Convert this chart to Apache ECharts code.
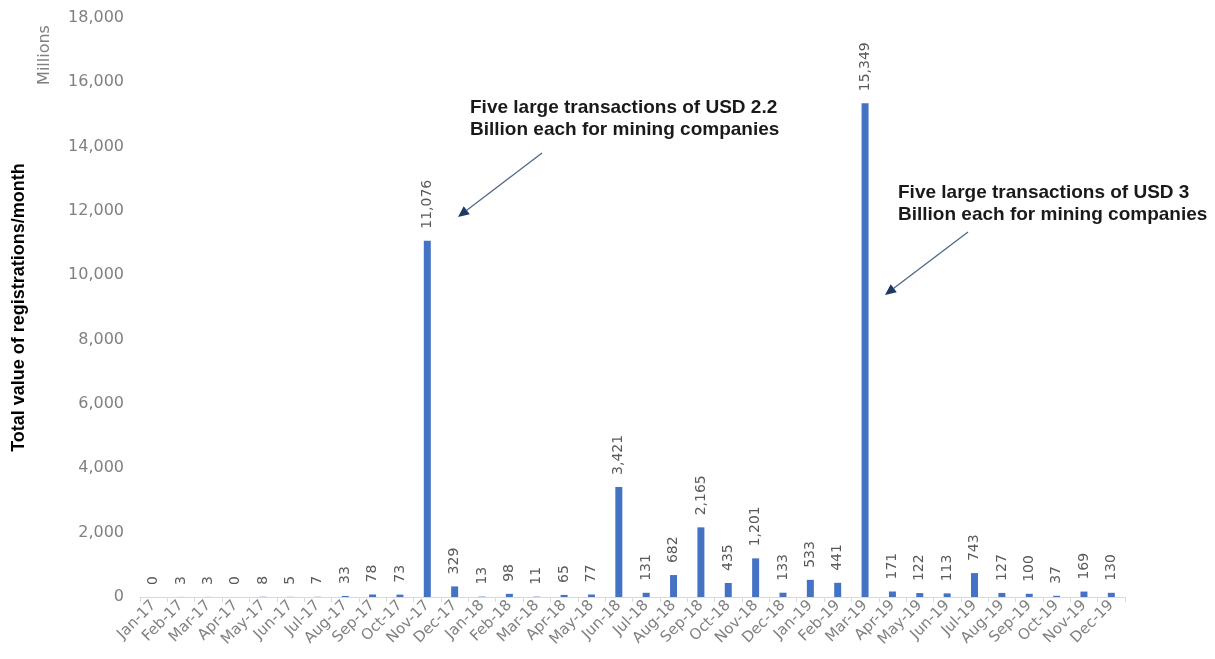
<!DOCTYPE html>
<html>
<head>
<meta charset="utf-8">
<script src="https://cdn.jsdelivr.net/npm/echarts@6/dist/echarts.min.js"></script>
<style>
  html, body { margin: 0; padding: 0; background: #fff; }
  #chart { width: 1215px; height: 659px; }
</style>
</head>
<body>
<div id="chart"></div>
<script>
const categories = [
  'Jan-17','Feb-17','Mar-17','Apr-17','May-17','Jun-17','Jul-17','Aug-17','Sep-17','Oct-17','Nov-17','Dec-17',
  'Jan-18','Feb-18','Mar-18','Apr-18','May-18','Jun-18','Jul-18','Aug-18','Sep-18','Oct-18','Nov-18','Dec-18',
  'Jan-19','Feb-19','Mar-19','Apr-19','May-19','Jun-19','Jul-19','Aug-19','Sep-19','Oct-19','Nov-19','Dec-19'
];
const values = [
  0, 3, 3, 0, 8, 5, 7, 33, 78, 73, 11076, 329,
  13, 98, 11, 65, 77, 3421, 131, 682, 2165, 435, 1201, 133,
  533, 441, 15349, 171, 122, 113, 743, 127, 100, 37, 169, 130
];
const yTicks = { min: 0, max: 18000, interval: 2000 };
const yAxisTitle = 'Total value of registrations/month';
const unitLabel = 'Millions';
const note1 = 'Five large transactions of USD 2.2\nBillion each for mining companies';
const note2 = 'Five large transactions of USD 3\nBillion each for mining companies';

function fmt(v) { return Number(v).toLocaleString('en-US'); }

function arrow(x1, y1, x2, y2) {
  const dx = x2 - x1, dy = y2 - y1;
  const len = Math.sqrt(dx * dx + dy * dy);
  const ux = dx / len, uy = dy / len;
  const hl = 11, hw = 5;
  const bx = x2 - ux * hl, by = y2 - uy * hl;
  return [
    { type: 'line', shape: { x1: x1, y1: y1, x2: bx, y2: by },
      style: { stroke: '#4F6789', lineWidth: 1.3 }, z: 100 },
    { type: 'polygon', shape: { points: [[x2, y2], [bx - uy * hw, by + ux * hw], [bx + uy * hw, by - ux * hw]] },
      style: { fill: '#1F3864' }, z: 100 }
  ];
}

const chart = echarts.init(document.getElementById('chart'), null, { renderer: 'canvas' });
chart.setOption({
  backgroundColor: '#ffffff',
  animation: false,
  grid: { left: 140, right: 90, top: 18, bottom: 62 },
  xAxis: {
    type: 'category',
    data: categories,
    axisLine: { show: true, lineStyle: { color: '#D9D9D9', width: 1 } },
    axisTick: { show: true, length: 5, lineStyle: { color: '#D9D9D9' } },
    axisLabel: {
      interval: 0, rotate: 45, color: '#808080', fontSize: 15,
      fontFamily: 'DejaVu Sans', margin: 6
    },
    splitLine: { show: false }
  },
  yAxis: {
    type: 'value',
    min: yTicks.min, max: yTicks.max, interval: yTicks.interval,
    name: yAxisTitle,
    nameLocation: 'middle',
    nameRotate: 90,
    nameGap: 112,
    nameTextStyle: { fontFamily: 'Liberation Sans', fontWeight: 'bold', fontSize: 18, color: '#000000' },
    axisLine: { show: false },
    axisTick: { show: false },
    splitLine: { show: false },
    axisLabel: {
      color: '#808080', fontSize: 16, fontFamily: 'DejaVu Sans', margin: 16,
      formatter: function (v) { return fmt(v); }
    }
  },
  series: [{
    type: 'bar',
    data: values,
    barWidth: 7,
    itemStyle: { color: '#4472C4' },
    label: {
      show: true,
      position: 'top',
      rotate: 90,
      align: 'left',
      verticalAlign: 'middle',
      distance: 12,
      color: '#595959',
      fontSize: 14,
      fontFamily: 'DejaVu Sans',
      formatter: function (p) { return fmt(p.value); }
    }
  }],
  graphic: [
    { type: 'text', x: 45, y: 55, rotation: Math.PI / 2,
      style: { text: unitLabel, fill: '#808080', font: '16px "DejaVu Sans"', textAlign: 'center', textVerticalAlign: 'middle' } },
    { type: 'text', x: 470, y: 97,
      style: { text: note1, fill: '#1a1a1a', font: 'bold 19px "Liberation Sans"', lineHeight: 22, textAlign: 'left', textVerticalAlign: 'top' } },
    { type: 'text', x: 898, y: 182,
      style: { text: note2, fill: '#1a1a1a', font: 'bold 19px "Liberation Sans"', lineHeight: 22, textAlign: 'left', textVerticalAlign: 'top' } }
  ].concat(arrow(542, 153, 458, 217)).concat(arrow(968, 232, 885, 295))
});
</script>
</body>
</html>
